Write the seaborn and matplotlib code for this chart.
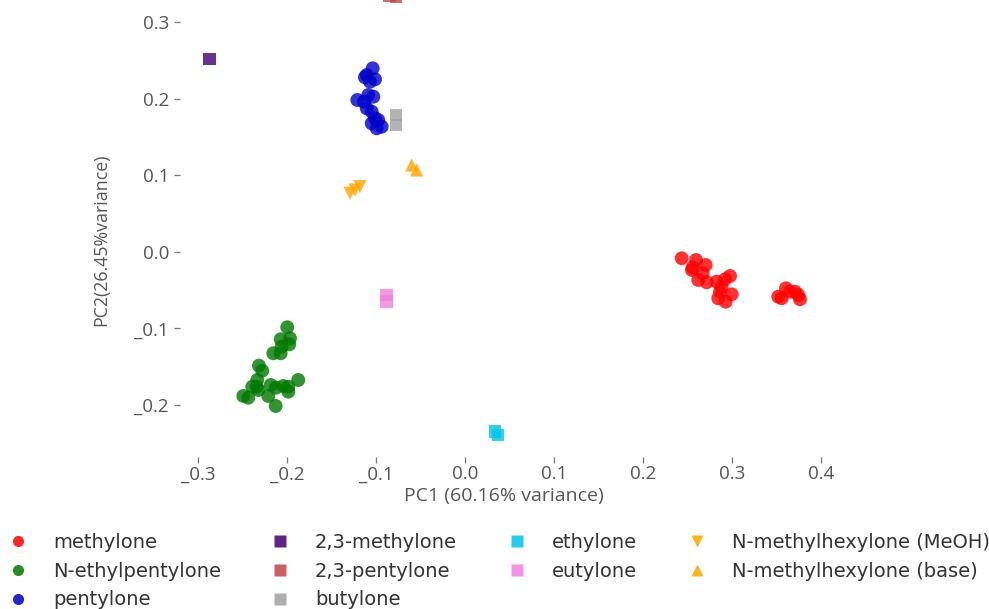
import matplotlib
matplotlib.use("Agg")
import matplotlib.pyplot as plt
from matplotlib.lines import Line2D
import seaborn as sns
import pandas as pd

# ---- data ----
methylone_x = [0.2435, 0.2596, 0.2558, 0.2704, 0.2671, 0.2621, 0.2716, 0.2828, 0.2921, 0.2978,
               0.2884, 0.2865, 0.2997, 0.2846, 0.2929, 0.2550, 0.3520, 0.3558, 0.3607, 0.3708,
               0.3745, 0.3764, 0.3650]
methylone_y = [-0.0082, -0.0105, -0.0200, -0.0170, -0.0278, -0.0366, -0.0396, -0.0388, -0.0357, -0.0314,
               -0.0454, -0.0519, -0.0553, -0.0605, -0.0650, -0.0235, -0.0584, -0.0605, -0.0475, -0.0519,
               -0.0562, -0.0618, -0.0520]
nep_x = [-0.1997, -0.2071, -0.1966, -0.1974, -0.2060, -0.2154, -0.2071, -0.2315, -0.2278, -0.2334,
         -0.2340, -0.2390, -0.2322, -0.2491, -0.2435, -0.2210, -0.2183, -0.2124, -0.2042, -0.1985,
         -0.1985, -0.1873, -0.2127]
nep_y = [-0.0984, -0.1141, -0.1128, -0.1207, -0.1238, -0.1324, -0.1324, -0.1486, -0.1552, -0.1673,
         -0.1761, -0.1761, -0.1804, -0.1882, -0.1905, -0.1882, -0.1739, -0.1774, -0.1752, -0.1761,
         -0.1826, -0.1673, -0.2013]
pentylone_x = [-0.1037, -0.1104, -0.1124, -0.1011, -0.1067, -0.1087, -0.1030, -0.1210, -0.1135, -0.1104,
               -0.1048, -0.1011, -0.0974, -0.1048, -0.0992, -0.0936]
pentylone_y = [0.2401, 0.2314, 0.2284, 0.2258, 0.2226, 0.2052, 0.2030, 0.1987, 0.1965, 0.1878,
               0.1834, 0.1748, 0.1725, 0.1682, 0.1617, 0.1638]
m23_x = [-0.2869]
m23_y = [0.2519]
p23_x = [-0.0850, -0.0775]
p23_y = [0.3355, 0.3335]
butylone_x = [-0.0775, -0.0775]
butylone_y = [0.1790, 0.1660]
ethylone_x = [0.0337, 0.0371]
ethylone_y = [-0.2349, -0.2392]
eutylone_x = [-0.0880, -0.0880]
eutylone_y = [-0.0562, -0.0650]
meoh_x = [-0.1292, -0.1236, -0.1180]
meoh_y = [0.0767, 0.0810, 0.0854]
base_x = [-0.0599, -0.0543]
base_y = [0.1137, 0.1072]

labels = ["methylone", "N-ethylpentylone", "pentylone", "2,3-methylone", "2,3-pentylone",
          "butylone", "ethylone", "eutylone", "N-methylhexylone (MeOH)", "N-methylhexylone (base)"]
xs = [methylone_x, nep_x, pentylone_x, m23_x, p23_x, butylone_x, ethylone_x, eutylone_x, meoh_x, base_x]
ys = [methylone_y, nep_y, pentylone_y, m23_y, p23_y, butylone_y, ethylone_y, eutylone_y, meoh_y, base_y]
colors = ["#FF0000", "#007800", "#0000C8", "#440070", "#C04848", "#A0A0A0",
          "#00C4E8", "#F080E0", "#FFA500", "#FFA500"]
markers = ["o", "o", "o", "s", "s", "s", "s", "s", "v", "^"]
sizes = [100, 100, 100, 80, 80, 80, 80, 80, 90, 90]

rows = []
for lab, xx, yy in zip(labels, xs, ys):
    for a, b in zip(xx, yy):
        rows.append({"PC1": a, "PC2": b, "group": lab})
df = pd.DataFrame(rows)

sns.set_style("white")
plt.rcParams["font.family"] = ["Open Sans", "DejaVu Sans"]

fig = plt.figure(figsize=(9.89, 6.09), dpi=100)
ax = fig.add_axes([180 / 989, 1 - 457 / 609, 650 / 989, 457 / 609])

for lab, col, mk, sz in zip(labels, colors, markers, sizes):
    sub = df[df["group"] == lab]
    sns.scatterplot(data=sub, x="PC1", y="PC2", color=col, marker=mk, s=sz,
                    alpha=0.8, edgecolor="none", linewidth=0, ax=ax, legend=False)

ax.set_xlim(-0.3202, 0.4101)
ax.set_ylim(-0.268, 0.3294)
for sp in ax.spines.values():
    sp.set_visible(False)

xt = [-0.3, -0.2, -0.1, 0.0, 0.1, 0.2, 0.3, 0.4]
yt = [-0.2, -0.1, 0.0, 0.1, 0.2, 0.3]
ax.set_xticks(xt)
ax.set_yticks(yt)
ax.set_xticklabels([("_" if v < 0 else "") + f"{abs(v):.1f}" for v in xt])
ax.set_yticklabels([("_" if v < 0 else "") + f"{abs(v):.1f}" for v in yt])
ax.tick_params(axis="both", which="both", direction="out", length=4, width=0.9,
               color="#777777", labelcolor="#555555", labelsize=13.5,
               bottom=True, left=True)
ax.tick_params(axis="y", pad=4)
ax.tick_params(axis="x", pad=2)

ax.set_xlabel("PC1 (60.16% variance)", fontsize=14, color="#555555")
ax.set_ylabel("PC2(26.45%variance)", fontsize=12.8, color="#555555")
ax.xaxis.set_label_coords(0.498, -0.066)
ax.yaxis.set_label_coords(-0.108, 0.475)

# legend in four columns placed below the plot
handles = [Line2D([0], [0], marker=mk, color="none", markerfacecolor=col, markeredgecolor="none",
                  markersize=8, alpha=0.85, linestyle="none")
           for col, mk in zip(colors, markers)]
col_groups = [[0, 1, 2], [3, 4, 5], [6, 7], [8, 9]]
col_marker_x = [18, 280, 517, 697]
fs = 14
half = fs * 100 / 72 * 1.0
for grp, mx in zip(col_groups, col_marker_x):
    leg = fig.legend([handles[i] for i in grp], [labels[i] for i in grp],
                     loc="upper left", bbox_to_anchor=((mx - half) / 989, 1 - 533 / 609),
                     frameon=False, borderpad=0, borderaxespad=0,
                     handlelength=2.0, handletextpad=0.8, labelspacing=0.5,
                     prop={"family": "DejaVu Sans", "size": fs})
    for t in leg.get_texts():
        t.set_color("#333333")

fig.savefig("out.png", dpi=100)
